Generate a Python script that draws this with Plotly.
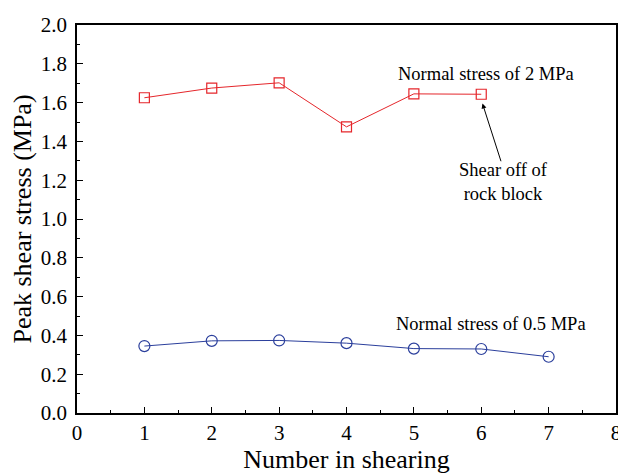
import plotly.graph_objects as go

x_vals = [1, 2, 3, 4, 5, 6, 7]
red_x = [1, 2, 3, 4, 5, 6]
red_y = [1.625, 1.675, 1.702, 1.475, 1.645, 1.643]
blue_y = [0.345, 0.372, 0.374, 0.360, 0.332, 0.330, 0.290]

FONT = "Liberation Serif"

fig = go.Figure()
fig.add_trace(go.Scatter(x=red_x, y=red_y, mode="lines+markers",
                         line=dict(color="#e5262b", width=1),
                         marker=dict(symbol="square-open", size=10, color="#e5262b", line=dict(width=1.2)),
                         showlegend=False))
fig.add_trace(go.Scatter(x=x_vals, y=blue_y, mode="lines+markers",
                         line=dict(color="#2b3f9c", width=1),
                         marker=dict(symbol="circle-open", size=11, color="#2b3f9c", line=dict(width=1.2)),
                         showlegend=False))

fig.add_annotation(x=6.07, y=1.75, text="Normal stress of 2 MPa", showarrow=False,
                   font=dict(family=FONT, size=18.5, color="black"), xanchor="center")
fig.add_annotation(x=6.15, y=0.457, text="Normal stress of 0.5 MPa", showarrow=False,
                   font=dict(family=FONT, size=18.5, color="black"), xanchor="center")
fig.add_annotation(x=6.0, y=1.615, ax=6.3, ay=1.29, axref="x", ayref="y",
                   text="", showarrow=True, arrowhead=2, arrowsize=1, arrowwidth=1, arrowcolor="black",
                   standoff=4)
fig.add_annotation(x=6.33, y=1.19, text="Shear off of<br>rock block", showarrow=False,
                   font=dict(family=FONT, size=18.5, color="black"), xanchor="center", align="center")

axis_common = dict(showgrid=False, zeroline=False, showline=True, linecolor="black", linewidth=1.5,
                   mirror=True, ticks="inside", ticklen=6, tickwidth=1.2, tickcolor="black",
                   ticklabeloverflow="allow",
                   tickfont=dict(family=FONT, size=21, color="black"),
                   minor=dict(ticks="inside", ticklen=3, tickwidth=1, tickcolor="black"))

fig.update_xaxes(range=[0, 8], dtick=1, minor_dtick=0.5,
                 title=dict(text="Number in shearing", font=dict(family=FONT, size=26, color="black"), standoff=2),
                 **axis_common)
fig.update_yaxes(range=[0, 2.0], dtick=0.2, tickformat=".1f", minor_dtick=0.1, ticklabelstandoff=4,
                 title=dict(text="Peak shear stress (MPa)", font=dict(family=FONT, size=26, color="black"), standoff=8),
                 **axis_common)

fig.update_layout(width=618, height=467, plot_bgcolor="white", paper_bgcolor="white",
                  margin=dict(l=69, r=5, t=11, b=62))

fig.write_html("out.html")
